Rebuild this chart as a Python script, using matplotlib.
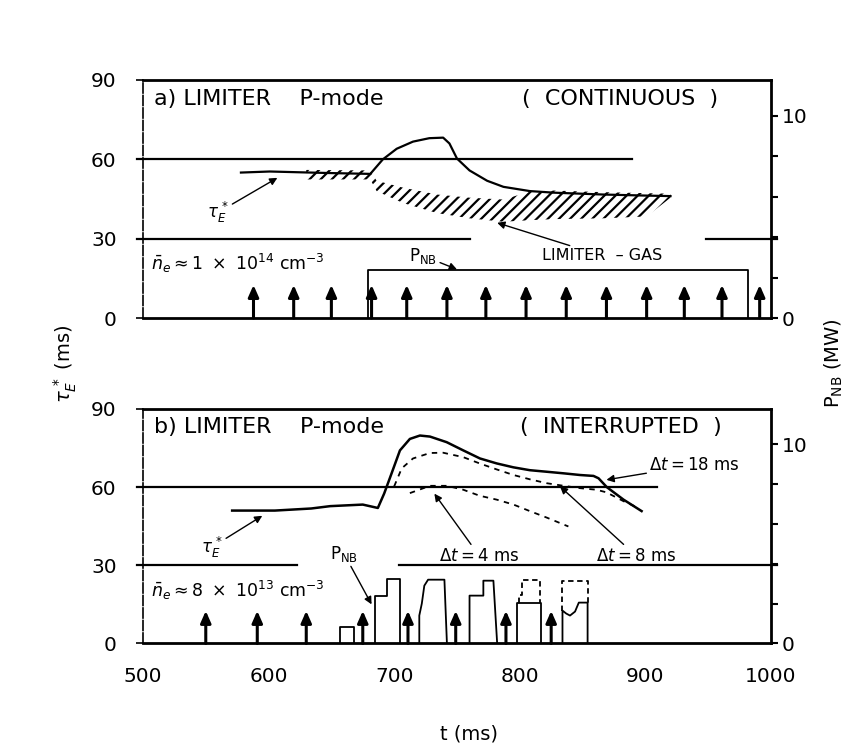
import numpy as np
import matplotlib
matplotlib.use("Agg")
import matplotlib.pyplot as plt

plt.rcParams['font.family'] = ['DejaVu Sans']
plt.rcParams['mathtext.fontset'] = 'dejavusans'
plt.rcParams['hatch.linewidth'] = 1.6

# ---------------- data ----------------
MW_TO_LEFT = 7.65          # 1 MW on right axis equals 7.65 ms on left axis
x_ticks = [500, 600, 700, 800, 900, 1000]
y_ticks = [0, 30, 60, 90]
p_ticks = [0, 2, 4, 6, 8, 10]
p_ticklabels = ['0', '', '', '', '', '10']

# panel a : tau_E* (continuous)
tau_a_t = [578, 601, 625, 650, 681, 691, 702, 715, 728, 739, 744, 750, 760, 774, 787, 808, 827, 866, 900, 920]
tau_a_y = [55, 55.4, 55.1, 54.8, 54.5, 60, 64, 66.7, 68, 68.2, 66, 60.3, 55.8, 51.9, 49.6, 48, 47.4, 46.7, 46.3, 46.1]
# hatched "limiter-gas" band
gas_t = [630, 681, 686, 707, 734, 760, 787, 808, 827, 866, 901, 920]
gas_upper = [56.0, 55.8, 51.9, 49.3, 46.7, 45.5, 44.8, 47.8, 48.2, 47.6, 47.2, 47.0]
gas_lower = [52.4, 52.4, 48.0, 43.5, 39.7, 37.7, 36.4, 37.0, 37.4, 37.7, 38.4, 45.5]
# NBI (continuous)
pnb_a_t = [679, 679, 982, 982]
pnb_a_p = [0, 2.35, 2.35, 0]
pellets_a = [588, 620, 650, 682, 710, 742, 773, 805, 837, 869, 901, 931, 961, 991]

# panel b : tau_E* (interrupted)
tau_b_t = [571, 605, 634, 649, 675, 687, 692, 697.5, 704.6, 712.5, 720.5, 728.5, 741.8, 755, 768.3, 781.6,
           794.9, 808, 821.5, 834.8, 848, 858.7, 862.7, 869.3, 882.6, 897]
tau_b_y = [51, 51, 51.8, 52.7, 53.3, 52.0, 57.5, 64.7, 74.1, 78.5, 79.8, 79.4, 77.25, 74.1, 71, 69.1,
           67.6, 66.5, 65.9, 65.3, 64.65, 64.3, 63.4, 60, 55.2, 50.8]
dt8_t = [700, 706, 715, 728.5, 739, 755, 768, 781.6, 795, 808, 821.5, 835, 848, 861, 869, 882.6, 894.5]
dt8_y = [60.3, 67.2, 71, 73.1, 73.2, 71.5, 69.1, 66.8, 64.65, 63, 61.5, 60.5, 59.6, 59, 58, 54.6, 52]
dt4_t = [712.5, 728.5, 742, 755, 768, 781.6, 795, 808, 821.5, 838.7]
dt4_y = [57.7, 60.5, 60.5, 59, 56.7, 55.2, 53.3, 50.8, 48.3, 44.9]

# NBI pulses (interrupted), MW
pnb_b_pulses = [
    ([657, 657, 668, 668], [0, 0.82, 0.82, 0]),
    ([685, 685, 694, 694, 705, 705], [0, 2.4, 2.4, 3.25, 3.25, 0]),
    ([720, 720, 722, 724, 727, 740, 742], [0, 1.4, 2.0, 2.9, 3.2, 3.2, 0]),
    ([760, 760, 771, 771, 779, 782], [0, 2.4, 2.4, 3.15, 3.15, 0]),
    ([797.5, 797.5, 817, 817], [0, 2.05, 2.05, 0]),
    ([834, 834, 837, 840, 844, 847, 854, 854], [0, 1.65, 1.5, 1.4, 1.6, 2.05, 2.05, 0]),
]
pnb_b_dashed = [
    ([799, 799, 802, 802, 816, 816], [2.05, 2.45, 2.45, 3.2, 3.2, 2.05]),
    ([834, 834, 854, 854], [1.65, 3.13, 3.13, 2.05]),
]
pellets_b = [550, 591, 630, 675, 711, 749, 789, 825]
pellet_height = 12.5

# reference lines (level, [(start, end), ...])
ref_a = [(60, [(495, 889)]), (30, [(495, 760), (948, 1005)])]
ref_b = [(60, [(495, 909)]), (30, [(495, 623), (704, 1005)])]

# ---------------- figure ----------------
fig = plt.figure(figsize=(8.49, 7.49), dpi=100)
ax_a = fig.add_axes([0.1684, 0.5754, 0.7397, 0.3178])
ax_b = fig.add_axes([0.1684, 0.1409, 0.7397, 0.3131])

arrow_kw = dict(arrowstyle='-|>', lw=1.0, color='k', mutation_scale=11, shrinkA=0, shrinkB=0)
pellet_kw = dict(arrowstyle='-|>,head_length=0.5,head_width=0.22', lw=2.2, color='k',
                 mutation_scale=14, shrinkA=0, shrinkB=0)


def setup(ax, show_x):
    ax.set_xlim(500, 1000)
    ax.set_ylim(0, 90)
    ax.set_yticks(y_ticks)
    ax.set_yticklabels([str(v) for v in y_ticks])
    ax.tick_params(axis='y', direction='out', length=5, width=1.2, pad=14, labelsize=14.5)
    ax.set_xticks(x_ticks)
    if show_x:
        ax.tick_params(axis='x', length=0, pad=17, labelsize=14.5)
    else:
        ax.tick_params(axis='x', length=0, labelbottom=False)
    for s in ['top', 'bottom', 'right']:
        ax.spines[s].set_linewidth(2.0)
    ax.spines['left'].set_linewidth(1.2)
    ax.spines['left'].set_linestyle((0, (6, 1.5)))
    tw = ax.twinx()
    tw.set_ylim(0, 90 / MW_TO_LEFT)
    tw.set_yticks(p_ticks)
    tw.set_yticklabels(p_ticklabels)
    tw.tick_params(axis='y', direction='out', length=5, width=1.5, pad=3, labelsize=14.5)
    for s in tw.spines.values():
        s.set_visible(False)
    return tw


tw_a = setup(ax_a, False)
tw_b = setup(ax_b, True)

for ax, refs in [(ax_a, ref_a), (ax_b, ref_b)]:
    for level, spans in refs:
        for s0, s1 in spans:
            ax.plot([s0, s1], [level, level], color='k', lw=1.6, clip_on=False)

# ---- panel a ----
ax_a.plot(tau_a_t, tau_a_y, color='k', lw=1.6)
ax_a.fill_between(gas_t, gas_lower, gas_upper, facecolor='none', edgecolor='k', hatch='///', linewidth=0)
tw_a.plot(pnb_a_t, pnb_a_p, color='k', lw=1.3)
for t in pellets_a:
    ax_a.annotate('', xy=(t, pellet_height), xytext=(t, 0), arrowprops=pellet_kw)

ax_a.text(509, 83, 'a) LIMITER    P-mode', fontsize=16, va='center', ha='left')
ax_a.text(802, 83, '(  CONTINUOUS  )', fontsize=16, va='center', ha='left')
ax_a.annotate(r'$\tau_E^{\,*}$', xy=(607, 53), xytext=(560, 40), fontsize=12,
              ha='center', va='center', arrowprops=arrow_kw)
ax_a.annotate('LIMITER  – GAS', xy=(782, 36), xytext=(818, 23.5), fontsize=11.5,
              ha='left', va='center', arrowprops=arrow_kw)
ax_a.annotate(r'P$_{\rm NB}$', xy=(750, 18.4), xytext=(712, 23.5), fontsize=12,
              ha='left', va='center', arrowprops=arrow_kw)
ax_a.text(506, 20.5, r'$\bar{n}_e \approx 1\ \times\ 10^{14}\ \mathrm{cm}^{-3}$', fontsize=12.5,
          ha='left', va='center')

# ---- panel b ----
ax_b.plot(tau_b_t, tau_b_y, color='k', lw=1.8)
ax_b.plot(dt8_t, dt8_y, color='k', lw=1.3, ls=(0, (3, 3)))
ax_b.plot(dt4_t, dt4_y, color='k', lw=1.3, ls=(0, (3, 3)))
for pt, pp in pnb_b_pulses:
    tw_b.plot(pt, pp, color='k', lw=1.3)
for pt, pp in pnb_b_dashed:
    tw_b.plot(pt, pp, color='k', lw=1.3, ls=(0, (3, 2)))
for t in pellets_b:
    ax_b.annotate('', xy=(t, pellet_height), xytext=(t, 0), arrowprops=pellet_kw)

ax_b.text(509, 83, 'b) LIMITER    P-mode', fontsize=16, va='center', ha='left')
ax_b.text(800, 83, '(  INTERRUPTED  )', fontsize=16, va='center', ha='left')
ax_b.annotate(r'$\tau_E^{\,*}$', xy=(595, 49), xytext=(555, 37), fontsize=12,
              ha='center', va='center', arrowprops=arrow_kw)
ax_b.annotate(r'P$_{\rm NB}$', xy=(682, 15), xytext=(660, 34.5), fontsize=12,
              ha='center', va='center', arrowprops=arrow_kw)
ax_b.annotate(r'$\Delta t = 4$ ms', xy=(732, 57.5), xytext=(736, 33.5), fontsize=12,
              ha='left', va='center', arrowprops=arrow_kw)
ax_b.annotate(r'$\Delta t = 8$ ms', xy=(832, 60.3), xytext=(861, 33.5), fontsize=12,
              ha='left', va='center', arrowprops=arrow_kw)
ax_b.annotate(r'$\Delta t = 18$ ms', xy=(869, 62.8), xytext=(903, 68.4), fontsize=12,
              ha='left', va='center', arrowprops=arrow_kw)
ax_b.text(506, 20.5, r'$\bar{n}_e \approx 8\ \times\ 10^{13}\ \mathrm{cm}^{-3}$', fontsize=12.5,
          ha='left', va='center')

# figure-level axis labels
fig.text(0.077, 0.515, r'$\tau_E^{\,*}$ (ms)', rotation=90, fontsize=14, ha='center', va='center')
fig.text(0.982, 0.515, r'P$_{\rm NB}$ (MW)', rotation=90, fontsize=14, ha='center', va='center')
fig.text(0.553, 0.02, 't (ms)', fontsize=14, ha='center', va='center')

fig.savefig('out.png', dpi=100)
